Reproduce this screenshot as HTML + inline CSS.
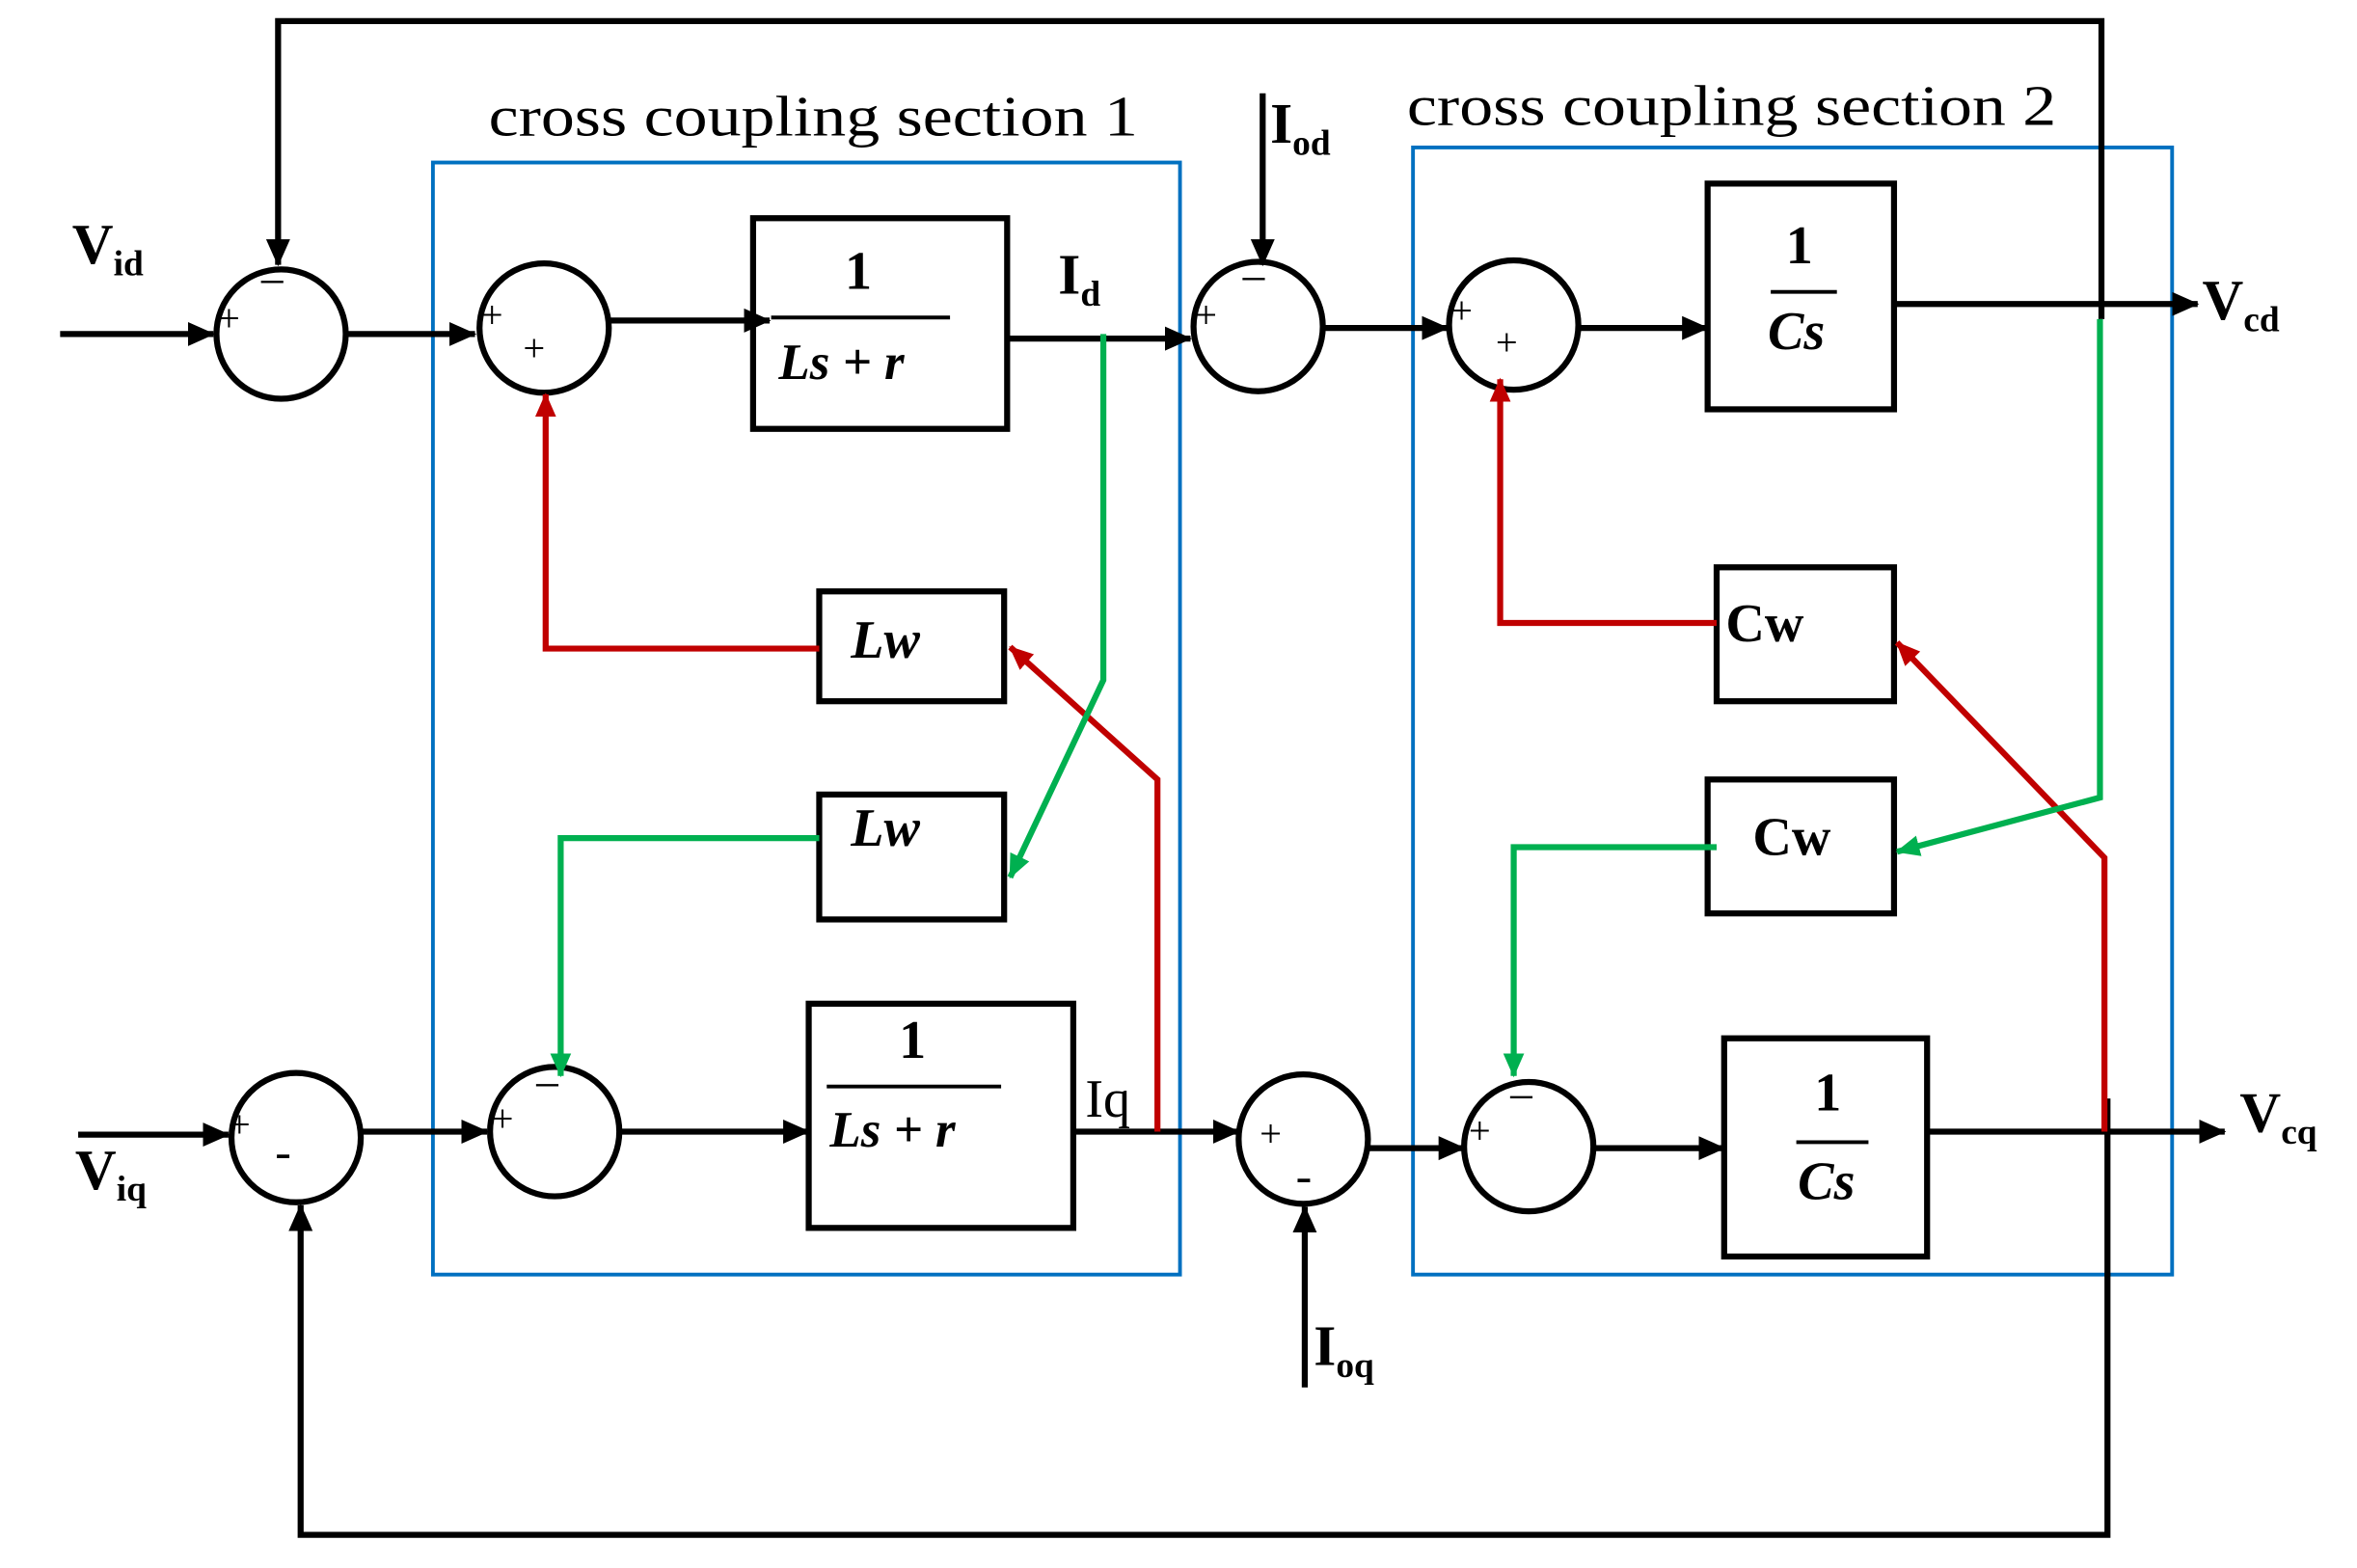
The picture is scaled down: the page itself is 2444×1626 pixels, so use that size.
<!DOCTYPE html>
<html><head><meta charset="utf-8"><style>html,body{margin:0;padding:0;background:#fff}svg{display:block}</style></head>
<body>
<svg width="2444" height="1626" viewBox="0 0 1568 1042" preserveAspectRatio="none" xmlns="http://www.w3.org/2000/svg">
<defs>
<marker id="ar" markerWidth="16" markerHeight="16" refX="15" refY="8" orient="auto" markerUnits="userSpaceOnUse"><path d="M0,1 L16,8 L0,15 z" fill="#c00000"/></marker>
<marker id="ag" markerWidth="16" markerHeight="16" refX="15" refY="8" orient="auto" markerUnits="userSpaceOnUse"><path d="M0,1 L16,8 L0,15 z" fill="#00b050"/></marker>
<marker id="ab" markerWidth="18" markerHeight="18" refX="17" refY="9" orient="auto" markerUnits="userSpaceOnUse"><path d="M0,1 L18,9 L0,17 z" fill="#000"/></marker>
</defs>
<g fill="none" stroke="#0070c0" stroke-width="2.5">
<rect x="288" y="108" width="497" height="739"/>
<rect x="940" y="98" width="505" height="749"/>
</g>
<g font-family="Liberation Serif, serif" font-size="38" fill="#000">
<text x="325" y="90" textLength="432" lengthAdjust="spacingAndGlyphs">cross coupling section 1</text>
<text x="936" y="83" textLength="432" lengthAdjust="spacingAndGlyphs">cross coupling section 2</text>
</g>
<g fill="none" stroke="#000" stroke-width="4">
<polyline points="1398,212 1398,14 185,14 185,176" marker-end="url(#ab)"/>
<line x1="40" y1="222" x2="142" y2="222" marker-end="url(#ab)"/>
<circle cx="187" cy="222" r="43"/>
<line x1="230" y1="222" x2="316" y2="222" marker-end="url(#ab)"/>
<circle cx="362" cy="218" r="43"/>
<line x1="405" y1="213" x2="512" y2="213" marker-end="url(#ab)"/>
<rect x="501" y="145" width="169" height="140"/>
<line x1="670" y1="225" x2="792" y2="225" marker-end="url(#ab)"/>
<circle cx="837" cy="217" r="43"/>
<line x1="840" y1="62" x2="840" y2="176" marker-end="url(#ab)"/>
<line x1="880" y1="218" x2="963" y2="218" marker-end="url(#ab)"/>
<circle cx="1007" cy="216" r="43"/>
<line x1="1050" y1="218" x2="1136" y2="218" marker-end="url(#ab)"/>
<rect x="1136" y="122" width="124" height="150"/>
<line x1="1260" y1="202" x2="1462" y2="202" marker-end="url(#ab)"/>
<rect x="545" y="393" width="123" height="73"/>
<rect x="545" y="528" width="123" height="83"/>
<rect x="1142" y="377" width="118" height="89"/>
<rect x="1136" y="518" width="124" height="89"/>
<line x1="52" y1="754" x2="152" y2="754" marker-end="url(#ab)"/>
<circle cx="197" cy="756" r="43"/>
<line x1="240" y1="752" x2="324" y2="752" marker-end="url(#ab)"/>
<circle cx="369" cy="752" r="43"/>
<line x1="412" y1="752" x2="538" y2="752" marker-end="url(#ab)"/>
<rect x="538" y="667" width="176" height="149"/>
<line x1="714" y1="752" x2="824" y2="752" marker-end="url(#ab)"/>
<circle cx="867" cy="757" r="43"/>
<line x1="868" y1="922" x2="868" y2="802" marker-end="url(#ab)"/>
<line x1="910" y1="763" x2="974" y2="763" marker-end="url(#ab)"/>
<circle cx="1017" cy="762" r="43"/>
<line x1="1060" y1="763" x2="1147" y2="763" marker-end="url(#ab)"/>
<rect x="1147" y="690" width="135" height="145"/>
<line x1="1282" y1="752" x2="1480" y2="752" marker-end="url(#ab)"/>
<polyline points="1402,730 1402,1020 200,1020 200,801" marker-end="url(#ab)"/>
<line x1="513" y1="211" x2="632" y2="211" stroke-width="2.5"/>
<line x1="550" y1="722" x2="666" y2="722" stroke-width="2.5"/>
<line x1="1178" y1="194" x2="1222" y2="194" stroke-width="2.5"/>
<line x1="1195" y1="759" x2="1243" y2="759" stroke-width="2.5"/>
</g>
<g fill="none" stroke="#c00000" stroke-width="4">
<polyline points="545,431 363,431 363,262" marker-end="url(#ar)"/>
<polyline points="770,752 770,518 672,430" marker-end="url(#ar)"/>
<polyline points="1142,414 998,414 998,252" marker-end="url(#ar)"/>
<polyline points="1400,752 1400,570 1262,427" marker-end="url(#ar)"/>
</g>
<g fill="none" stroke="#00b050" stroke-width="4">
<polyline points="734,222 734,452 672,583" marker-end="url(#ag)"/>
<polyline points="545,557 373,557 373,715" marker-end="url(#ag)"/>
<polyline points="1397,212 1397,530 1262,566" marker-end="url(#ag)"/>
<polyline points="1142,563 1007,563 1007,715" marker-end="url(#ag)"/>
</g>
<g font-family="Liberation Serif, serif" font-weight="bold" fill="#000">
<text x="562" y="192" font-size="36">1</text>
<text x="518" y="252" font-size="34" font-style="italic">Ls + r</text>
<text x="598" y="703" font-size="36">1</text>
<text x="552" y="762" font-size="34" font-style="italic">Ls + r</text>
<text x="1188" y="175" font-size="36">1</text>
<text x="1176" y="232" font-size="36" font-style="italic">Cs</text>
<text x="1207" y="738" font-size="36">1</text>
<text x="1196" y="797" font-size="36" font-style="italic">Cs</text>
<text x="566" y="437" font-size="36" font-style="italic">Lw</text>
<text x="566" y="562" font-size="36" font-style="italic">Lw</text>
<text x="1148" y="426" font-size="36">Cw</text>
<text x="1166" y="568" font-size="36">Cw</text>
<text x="48" y="175" font-size="38">V<tspan font-size="24" dy="8">id</tspan></text>
<text x="50" y="790" font-size="38">V<tspan font-size="24" dy="8">iq</tspan></text>
<text x="1465" y="212" font-size="38">V<tspan font-size="24" dy="8">cd</tspan></text>
<text x="1490" y="752" font-size="38">V<tspan font-size="24" dy="8">cq</tspan></text>
<text x="845" y="95" font-size="38">I<tspan font-size="24" dy="8">od</tspan></text>
<text x="874" y="907" font-size="38">I<tspan font-size="24" dy="8">oq</tspan></text>
<text x="704" y="195" font-size="38">I<tspan font-size="24" dy="8">d</tspan></text>
</g>
<g font-family="Liberation Serif, serif" fill="#000" font-size="26">
<text x="722" y="742" font-size="36">Iq</text>
<text x="145" y="220">+</text><text x="172" y="198" font-size="32">−</text>
<text x="320" y="218">+</text><text x="348" y="240">+</text>
<text x="795" y="218">+</text><text x="825" y="196" font-size="32">−</text>
<text x="965" y="215">+</text><text x="995" y="236">+</text>
<text x="152" y="756">+</text><text x="183" y="776" font-size="32">-</text>
<text x="327" y="752">+</text><text x="355" y="732" font-size="32">−</text>
<text x="838" y="762">+</text><text x="862" y="792" font-size="32">-</text>
<text x="977" y="760">+</text><text x="1003" y="740" font-size="32">−</text>
</g>
</svg>
</body></html>
